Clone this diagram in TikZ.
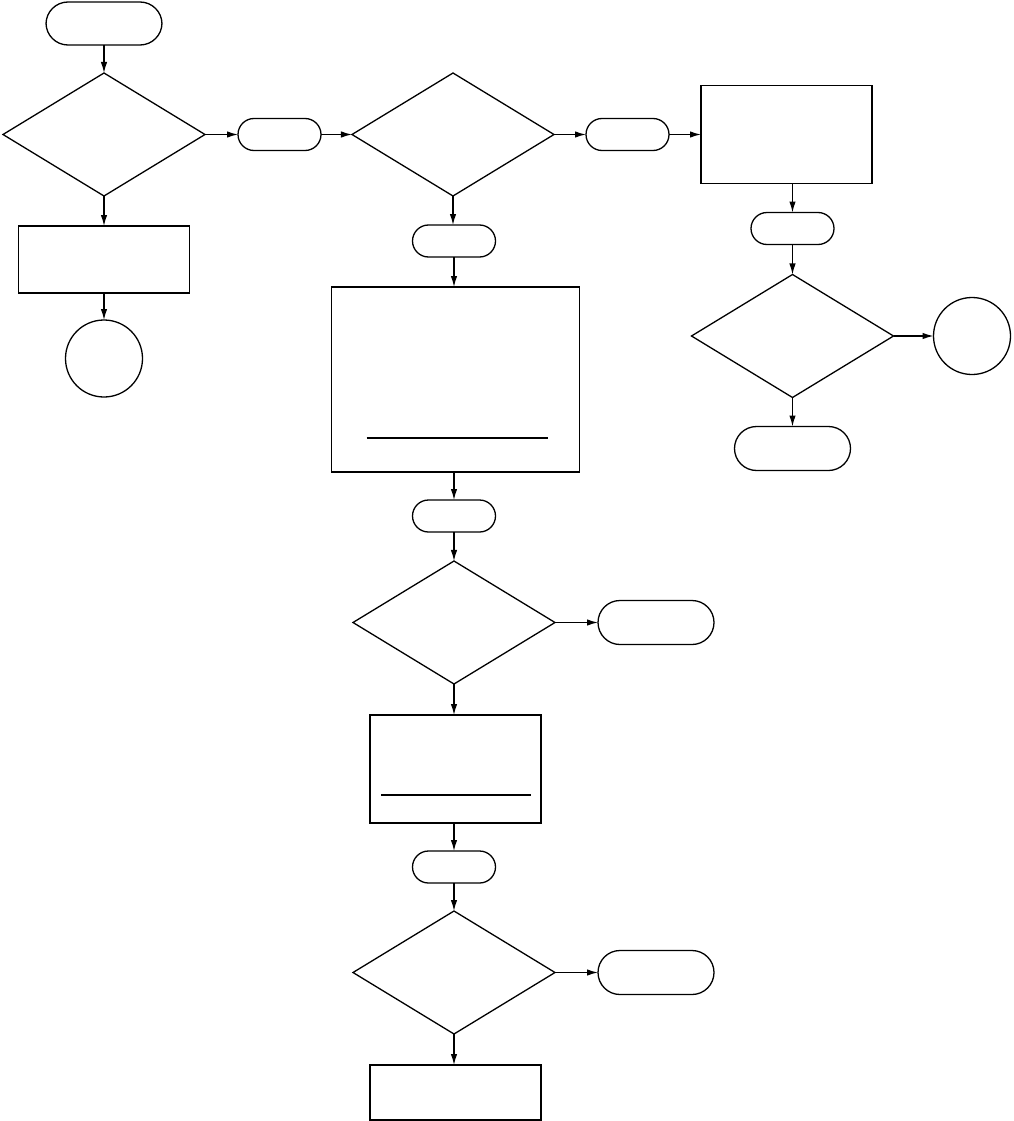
\documentclass[tikz,border=0pt]{standalone}
\usepackage{tikz}
\usetikzlibrary{arrows.meta,positioning,calc,shapes.geometric}

\begin{document}
\begin{tikzpicture}[x=1pt,y=1pt,
  proc/.style={draw,line width=1.8pt,inner sep=0pt,outer sep=0pt,minimum width=171pt},
  term/.style={draw,line width=1.3pt,inner sep=0pt,outer sep=0pt,rounded corners=16pt,
    minimum width=83pt,minimum height=32pt},
  wterm/.style={term,rounded corners=22pt,minimum width=116pt,minimum height=44pt},
  dec/.style={draw,diamond,line width=1.3pt,inner sep=0pt,outer sep=0pt,
    minimum width=202pt,minimum height=123pt},
  conn/.style={draw,circle,line width=1.3pt,inner sep=0pt,outer sep=0pt,minimum size=77pt},
  arr/.style={-{Latex[length=11pt,width=6.5pt]},line width=1.3pt}]
  \useasboundingbox (0,0) rectangle (1013,-1121);
  % left column
  \node[wterm,minimum height=43pt] (start) at (104,-23.5) {};
  \node[dec,below=28pt of start] (d1) {};
  \node[proc,minimum height=67pt,below=30pt of d1] (p0) {};
  \node[conn,below=27pt of p0] (c0) {};
  % top row
  \node[term,right=33pt of d1] (t1) {};
  \node[dec,right=31pt of t1] (d2) {};
  \node[term,right=32pt of d2] (t2) {};
  \node[proc,minimum height=98pt,right=32pt of t2] (p1) {};
  % right column
  \node[term,below=29pt of p1,xshift=6pt] (t3) {};
  \node[dec,below=30pt of t3] (d3) {};
  \node[conn,right=40pt of d3] (c1) {};
  \node[wterm,below=29pt of d3] (e1) {};
  % middle column
  \node[term,below=29pt of d2,xshift=1pt] (t4) {};
  \node[proc,minimum width=248pt,minimum height=185pt,below=30pt of t4,xshift=1.5pt] (p2) {};
  \node[term,below=28pt of p2,xshift=-1.5pt] (t5) {};
  \node[dec,below=29pt of t5] (d4) {};
  \node[wterm,right=43pt of d4] (e2) {};
  \node[proc,minimum height=108pt,below=31pt of d4,xshift=1.5pt] (p3) {};
  \node[term,below=28pt of p3,xshift=-1.5pt] (t6) {};
  \node[dec,below=28pt of t6] (d5) {};
  \node[wterm,right=43pt of d5] (e3) {};
  \node[proc,minimum height=55pt,below=31pt of d5,xshift=1.5pt] (p4) {};
  % rules inside the boxes
  \draw[line width=1.3pt] ($(p2.south west)+(35,34)$) -- ($(p2.south east)+(-32,34)$);
  \draw[line width=1.3pt] ($(p3.south west)+(11,28)$) -- ($(p3.south east)+(-10,28)$);
  % connectors
  \draw[arr] (start) -- (d1);
  \draw[arr] (d1) -- (p0.north -| d1);
  \draw[arr] (p0.south -| c0) -- (c0);
  \draw[arr] (d1) -- (t1);
  \draw[arr] (t1) -- (d2);
  \draw[arr] (d2) -- (t2);
  \draw[arr] (t2) -- (p1);
  \draw[arr] (p1.south -| t3) -- (t3);
  \draw[arr] (t3) -- (d3);
  \draw[arr] (d3) -- (c1);
  \draw[arr] (d3) -- (e1);
  \draw[arr] (d2) -- (t4.north -| d2);
  \draw[arr] (t4) -- (p2.north -| t4);
  \draw[arr] (p2.south -| t5) -- (t5);
  \draw[arr] (t5) -- (d4);
  \draw[arr] (d4) -- (e2);
  \draw[arr] (d4) -- (p3.north -| d4);
  \draw[arr] (p3.south -| t6) -- (t6);
  \draw[arr] (t6) -- (d5);
  \draw[arr] (d5) -- (e3);
  \draw[arr] (d5) -- (p4.north -| d5);
\end{tikzpicture}
\end{document}
